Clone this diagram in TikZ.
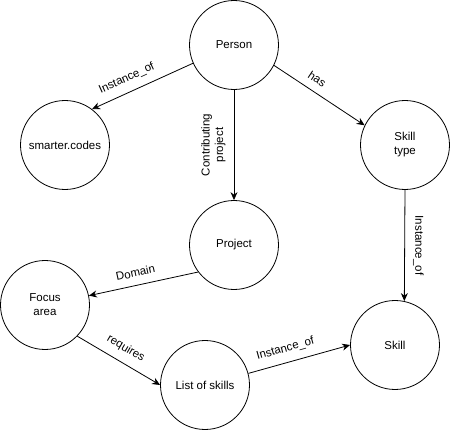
\documentclass[tikz,border=0pt]{standalone}
\usepackage{fontspec}
\setmainfont{Liberation Sans}
\usetikzlibrary{arrows.meta}

\begin{document}
\begin{tikzpicture}[x=1pt, y=1pt, line width=0.8pt,
    entity/.style={draw, circle, minimum size=89pt, inner sep=1pt, align=center,
      font=\fontsize{11.5}{14}\selectfont},
    rel/.style={-{Stealth[length=8pt, width=7pt]}},
    lbl/.style={font=\fontsize{11.5}{13.5}\selectfont, inner sep=2pt},
    slbl/.style={lbl, sloped, above=6pt}]
  \useasboundingbox (0,0) rectangle (451,-431);

  % 1. 實體 (圓)
  \node[entity] (person)  at (234,-45)  {Person};
  \node[entity] (smarter) at (65,-145)  {smarter.codes};
  \node[entity] (sktype)  at (405,-145) {Skill\\type};
  \node[entity] (project) at (234,-245) {Project};
  \node[entity] (focus)   at (45,-305)  {Focus\\area};
  \node[entity] (list)    at (205,-385) {List of skills};
  \node[entity] (skill)   at (395,-345) {Skill};

  % 2. Person 的關係
  \draw[rel] (person.204) -- node[slbl, pos=0.6] {Instance\_of} (smarter.53);
  \draw[rel] (person.333) -- node[slbl, pos=0.4] {has} (sktype.154);
  \draw[rel] (person.south) -- node[lbl, midway, rotate=90, anchor=south, yshift=6pt,
    align=center, fill=white] {Contributing\\project} (project.north);

  % 3. 其他關係
  \draw[rel] (sktype.south) -- node[lbl, midway, rotate=-90, anchor=south, yshift=6pt]
    {Instance\_of} (skill.78);
  \draw[rel] (project.217) -- node[slbl, pos=0.55] {Domain} (focus.12);
  \draw[rel] (focus.316) -- node[slbl, pos=0.5] {requires} (list.west);
  \draw[rel] (list.15) -- node[slbl, pos=0.4] {Instance\_of} (skill.west);
\end{tikzpicture}
\end{document}
